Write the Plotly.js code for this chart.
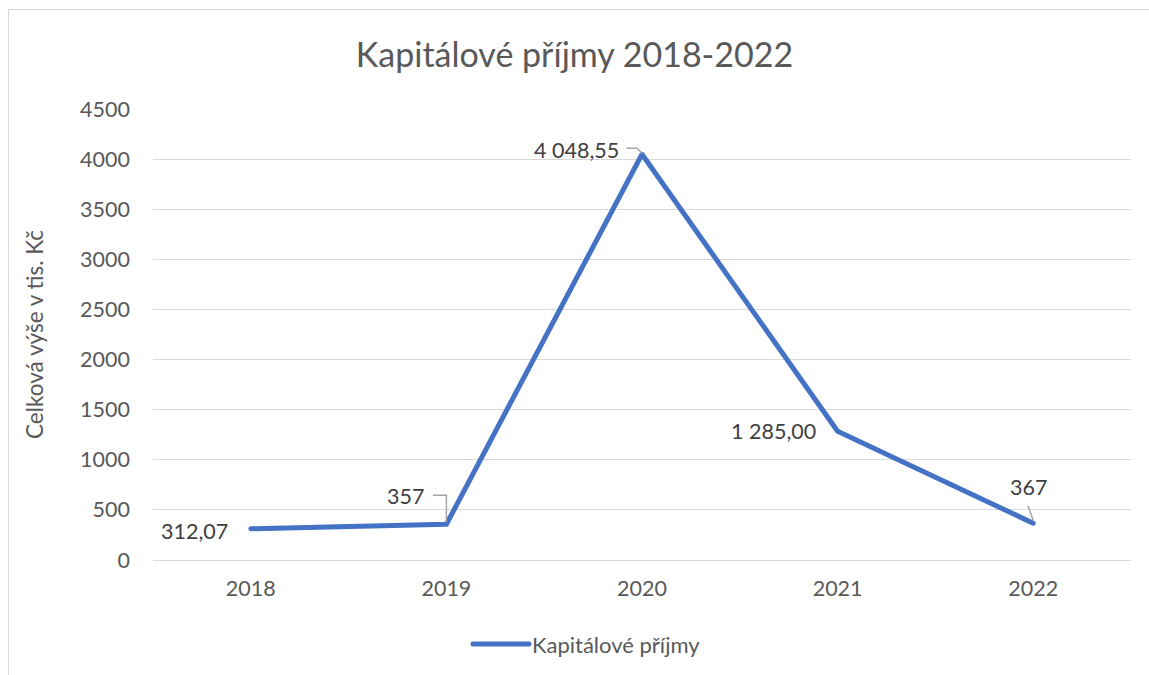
<!DOCTYPE html>
<html><head><meta charset="utf-8">
<script src="https://cdn.plot.ly/plotly-3.0.1.min.js"></script>
<style>
html,body{margin:0;padding:0;overflow:hidden;background:#fff;}
#chart{position:absolute;left:0;top:0;width:1149px;height:675px;}
#frame{position:absolute;left:8px;top:9px;width:1200px;height:700px;border:1px solid #d9d9d9;pointer-events:none;}
.js-line{stroke-linecap:round;stroke-linejoin:round;}
.shapelayer path{stroke-linecap:round;}
</style></head>
<body>
<div id="chart"></div>
<div id="frame"></div>
<script>
const years = ['2018','2019','2020','2021','2022'];
const values = [312.07, 357, 4048.55, 1285.00, 367];
const labels = ['312,07','357','4 048,55','1 285,00','367'];
const seriesName = 'Kapitálové příjmy';
const yTicks = [0,500,1000,1500,2000,2500,3000,3500,4000,4500];

const FONT = 'Lato, "Open Sans", sans-serif';
const GREY = '#595959';
const BLUE = '#4472C4';

// label offsets (pixels) relative to each point
const labelShift = [[-56,-2],[-41,28],[-66,4],[-64,0],[-5,36]];
// leader line paths (pixels, relative to point); empty = none
const leaders = ['', 'M-13,29 L0,29 L0,3', 'M-15,6 L-5,6 L0,1', '', 'M-5,17 L0,3'];

const annotations = years.map((yr,i)=>({
  x: i, y: values[i], xref:'x', yref:'y', text: labels[i], showarrow:false,
  xshift: labelShift[i][0], yshift: labelShift[i][1],
  font:{family:FONT, size:21.5, color:'#404040'}
}));

const shapes = [];
years.forEach((yr,i)=>{
  if(!leaders[i]) return;
  shapes.push({type:'path', xref:'x', yref:'y', xsizemode:'pixel', ysizemode:'pixel',
    xanchor: i, yanchor: values[i], path: leaders[i],
    line:{color:'#a6a6a6', width:1.5}});
});

// manual legend (line sample + text) below the plot
shapes.push({type:'line', xref:'paper', yref:'paper', x0:0.3272, x1:0.3845, y0:-0.1863, y1:-0.1863,
  line:{color:BLUE, width:5}});
annotations.push({xref:'paper', yref:'paper', x:0.3855, y:-0.1863, xanchor:'left', yanchor:'middle',
  text: seriesName, showarrow:false, font:{family:FONT, size:22, color:GREY}});

const trace = {
  x: years, y: values, type:'scatter', mode:'lines', name: seriesName, showlegend:false,
  line:{color:BLUE, width:5}
};

const layout = {
  width:1149, height:675,
  margin:{l:153, r:18, t:109, b:115, autoexpand:false},
  paper_bgcolor:'rgba(0,0,0,0)', plot_bgcolor:'rgba(0,0,0,0)',
  title:{text:'Kapitálové příjmy 2018-2022', font:{family:FONT, size:34, color:GREY}, x:0.5, xanchor:'center', y:0.918, yanchor:'middle', yref:'container'},
  xaxis:{type:'category', range:[-0.5,4.5], showgrid:false, showline:false, zeroline:false,
    ticks:'', tickfont:{family:FONT, size:21.5, color:GREY}, ticklabelstandoff:13, fixedrange:true},
  yaxis:{range:[0,4500], tickvals:yTicks, ticktext:yTicks.map(String), showgrid:true, gridcolor:'#d9d9d9', gridwidth:1,
    zeroline:true, zerolinecolor:'#d9d9d9', zerolinewidth:1, showline:false, ticks:'',
    tickfont:{family:FONT, size:21.5, color:GREY}, ticklabelstandoff:22,
    title:{text:'Celková výše v tis. Kč', font:{family:FONT, size:22.5, color:GREY}, standoff:30}},
  showlegend:false,
  annotations: annotations,
  shapes: shapes
};

Plotly.newPlot('chart', [trace], layout, {displayModeBar:false, staticPlot:true});
</script>
</body></html>
